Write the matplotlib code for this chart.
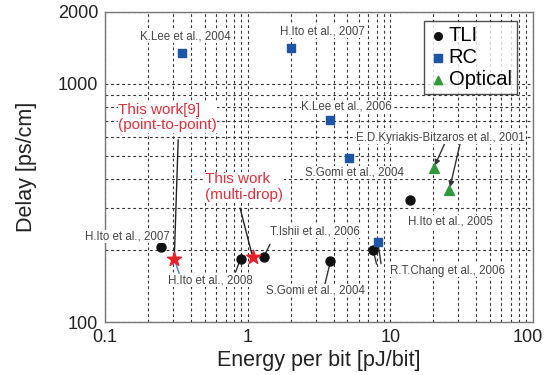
import matplotlib

matplotlib.use("Agg")
import matplotlib.pyplot as plt
from matplotlib.ticker import FixedLocator, LogLocator, NullFormatter
from matplotlib.transforms import ScaledTranslation

plt.rcParams["font.family"] = ["Liberation Sans", "DejaVu Sans"]

# ── data (energy per bit [pJ/bit], delay [ps/cm]) ──────────────────────────
tli_energy = [0.246, 0.89, 1.29, 3.8, 7.57, 13.8]
tli_delay = [207, 184, 187, 180, 200, 324]

rc_energy = [0.345, 2.02, 3.8, 5.16, 8.15]
rc_delay = [1350, 1412, 706, 488, 217]

opt_energy = [20.1, 25.9]
opt_delay = [443, 359]

this_energy = [0.305, 1.08]
this_delay = [184, 188]

# reference labels: (text, x, y)
ref_labels = [
    ("K.Lee et al., 2004", 0.364, 1575),
    ("H.Ito et al., 2007", 3.34, 1654),
    ("K.Lee et al., 2006", 4.94, 800),
    ("E.D.Kyriakis-Bitzaros et al., 2001", 22.5, 593),
    ("S.Gomi et al., 2004", 5.56, 423),
    ("H.Ito et al., 2007", 0.144, 228),
    ("H.Ito et al., 2008", 0.544, 149),
    ("T.Ishii et al., 2006", 2.96, 239),
    ("S.Gomi et al., 2004", 2.96, 136),
    ("R.T.Chang et al., 2006", 25.2, 164),
    ("H.Ito et al., 2005", 26.5, 264),
]

# connector lines: (point x, point y, line-end x, line-end y, colour, arrow)
connectors = [
    (0.305, 184, 0.325, 582, "#222222", "-"),
    (1.08, 188, 0.883, 301, "#222222", "-"),
    (0.89, 184, 0.82, 162, "#333333", "-"),
    (0.305, 184, 0.33, 160, "#4a7fc0", "-"),
    (1.29, 187, 1.43, 212, "#333333", "-"),
    (3.8, 180, 3.47, 144, "#333333", "-"),
    (7.57, 200, 8.0, 175, "#333333", "-"),
    (8.15, 217, 8.6, 176, "#333333", "-"),
    (20.1, 443, 24.0, 560, "#333333", "-|>"),
    (25.9, 359, 31.0, 570, "#333333", "-|>"),
]

fig = plt.figure(figsize=(5.45, 3.75), dpi=100)
ax = fig.add_axes([0.193, 0.141, 0.785, 0.827])
ax.set_xscale("log")
ax.set_yscale("log")
ax.set_xlim(0.1, 100)
ax.set_ylim(100, 2000)

ax.xaxis.set_major_locator(FixedLocator([0.1, 1, 10, 100]))
ax.set_xticklabels(["0.1", "1", "10", "100"])
ax.yaxis.set_major_locator(FixedLocator([100, 1000, 2000]))
ax.set_yticklabels(["100", "1000", "2000"])
ax.xaxis.set_minor_locator(LogLocator(base=10, subs=range(2, 10)))
ax.yaxis.set_minor_locator(LogLocator(base=10, subs=range(2, 10)))
ax.xaxis.set_minor_formatter(NullFormatter())
ax.yaxis.set_minor_formatter(NullFormatter())
ax.tick_params(which="major", direction="in", length=0, labelsize=13,
               colors="#222222", pad=5)
ax.tick_params(which="minor", length=0)

# MATLAB-style: last x label pulled inside the figure edge
last = ax.get_xticklabels()[-1]
last.set_ha("right")
last.set_transform(last.get_transform()
                   + ScaledTranslation(7 / 72, 0, fig.dpi_scale_trans))

grid_kw = dict(color="#333333", lw=0.8, ls=(0, (2.5, 2.5)))
ax.grid(True, which="both", axis="both", **grid_kw)
ax.set_axisbelow(True)
for s in ax.spines.values():
    s.set_color("#777777")
    s.set_linewidth(1.0)

for (px, py, lx, ly, col, style) in connectors:
    ax.annotate("", xy=(px, py), xytext=(lx, ly),
                arrowprops=dict(arrowstyle=style, color=col, lw=1.0,
                                shrinkA=0, shrinkB=2,
                                mutation_scale=8))

ax.scatter(tli_energy, tli_delay, s=42, marker="o", color="#111111",
           zorder=5, label="TLI")
ax.scatter(rc_energy, rc_delay, s=40, marker="s", color="#1f55a5",
           zorder=5, label="RC")
ax.scatter(opt_energy, opt_delay, s=50, marker="^", color="#2f9a3c",
           zorder=5, label="Optical")
ax.scatter(this_energy, this_delay, s=110, marker="*", color="#e8202a",
           zorder=6)

for text, x, y in ref_labels:
    ax.text(x, y, text, ha="center", va="center", fontsize=8.3,
            color="#444444", zorder=7,
            bbox=dict(facecolor="white", edgecolor="none", pad=0.3))

ax.text(0.123, 720, "This work[9]\n(point-to-point)", ha="left",
        va="center", fontsize=11, color="#df2f3a", linespacing=1.1,
        zorder=7, bbox=dict(facecolor="white", edgecolor="none", pad=0.3))
ax.text(0.502, 369, "This work\n(multi-drop)", ha="left", va="center",
        fontsize=11, color="#df2f3a", linespacing=1.1, zorder=7,
        bbox=dict(facecolor="white", edgecolor="none", pad=0.3))

ax.set_xlabel("Energy per bit [pJ/bit]", fontsize=15.5, color="#222222",
              labelpad=3)
ax.set_ylabel("Delay [ps/cm]", fontsize=15.5, color="#222222", labelpad=15)

leg = ax.legend(loc="upper right", bbox_to_anchor=(0.962, 0.97),
                fontsize=14.5, frameon=True, fancybox=False,
                handletextpad=0.1, borderpad=0.25, labelspacing=0.15,
                handlelength=0.9, borderaxespad=0, markerscale=0.85)
leg.get_frame().set_edgecolor("#222222")
leg.get_frame().set_linewidth(1.0)
leg.set_zorder(10)

fig.savefig("out.png", dpi=100)
